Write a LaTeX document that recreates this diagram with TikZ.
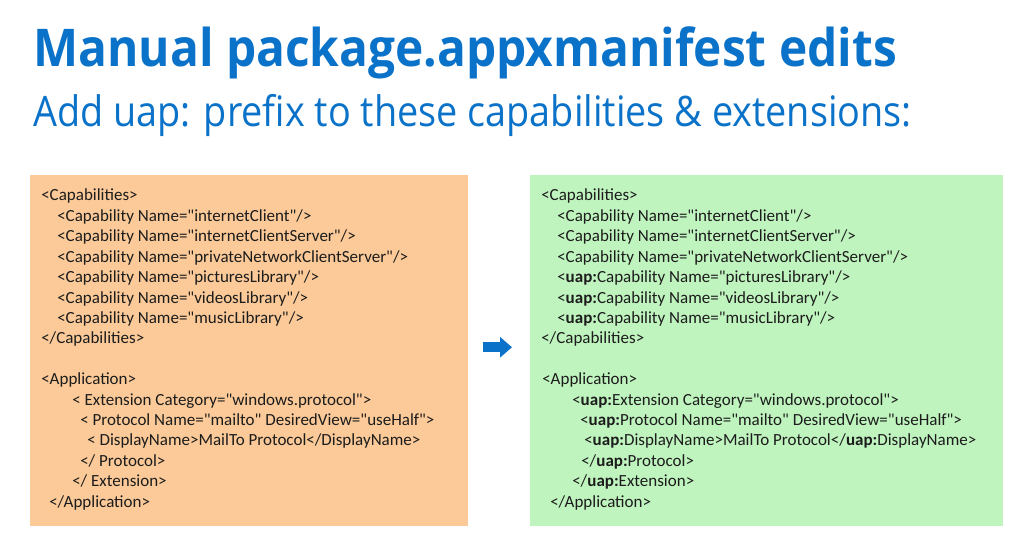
\documentclass[tikz,border=0pt]{standalone}
\usepackage{fontspec}
\setmainfont{Carlito}[Ligatures=TeXOff]
\newfontfamily\slidefont{Open Sans}
\usetikzlibrary{arrows.meta,calc}

\definecolor{slideblue}{HTML}{0A72C8}
\definecolor{peach}{HTML}{FBCA98}
\definecolor{mint}{HTML}{C0F4BF}
\definecolor{codegray}{HTML}{1C1C1C}

\tikzset{
  heading/.style={anchor=base west,inner sep=0pt,text=slideblue,font=\slidefont\bfseries\fontsize{39}{47}\selectfont},
  subheading/.style={anchor=base west,inner sep=0pt,text=slideblue,font=\slidefont\fontsize{31.5}{38}\selectfont},
  panel/.style={anchor=north west,inner sep=0pt,draw=none,minimum height=263.25pt},
  code/.style={anchor=base west,inner sep=0pt,text=codegray,font=\fontsize{12.75}{15.3}\selectfont},
  goarrow/.style={draw=slideblue,line width=7.5pt,line cap=butt,-{Triangle[length=9pt,width=15pt]}}
}
\newcommand{\uap}{\textbf{uap:}}

\begin{document}
\begin{tikzpicture}[line cap=round,line join=round,x=0.75pt,y=-0.75pt]
\useasboundingbox (0,0) rectangle (1024,552);

\node[heading] (title) at (33,67) {\scalebox{0.92}[1]{Manual package.appxmanifest edits}};
\node[subheading] (subtitle) at (33,127) {\scalebox{0.9}[1]{Add uap: prefix to these capabilities \& extensions:}};

\node[panel,fill=peach,minimum width=328.5pt] (oldbox) at (30,175) {};
\node[panel,fill=mint,minimum width=354.75pt] (newbox) at (530,175) {};

\draw[goarrow] ($(oldbox.east)+(14,-3.5)$) -- ($(newbox.west)+(-18,-3.5)$);

% old manifest
\node[code] (oldcap) at (41,201) {<Capabilities>};
\node[code] (oldcapa) at (57,221.4) {<Capability Name="internetClient"/>};
\node[code] (oldcapb) at (57,241.8) {<Capability Name="internetClientServer"/>};
\node[code] (oldcapc) at (57,262.2) {<Capability Name="privateNetworkClientServer"/>};
\node[code] (oldcapd) at (57,282.6) {<Capability Name="picturesLibrary"/>};
\node[code] (oldcape) at (57,303) {<Capability Name="videosLibrary"/>};
\node[code] (oldcapf) at (57,323.4) {<Capability Name="musicLibrary"/>};
\node[code] (oldcapend) at (41,343.8) {</Capabilities>};
\node[code] (oldapp) at (41,384.6) {<Application>};
\node[code] (oldext) at (72,405) {< Extension Category="windows.protocol">};
\node[code] (oldprot) at (80,425.4) {< Protocol Name="mailto" DesiredView="useHalf">};
\node[code] (olddisp) at (87,445.8) {< DisplayName>MailTo Protocol</DisplayName>};
\node[code] (oldprotend) at (80,466.2) {</ Protocol>};
\node[code] (oldextend) at (72,486.6) {</ Extension>};
\node[code] (oldappend) at (49,507) {</Application>};

% new manifest
\node[code] (newcap) at (541,201) {<Capabilities>};
\node[code] (newcapa) at (557,221.4) {<Capability Name="internetClient"/>};
\node[code] (newcapb) at (557,241.8) {<Capability Name="internetClientServer"/>};
\node[code] (newcapc) at (557,262.2) {<Capability Name="privateNetworkClientServer"/>};
\node[code] (newcapd) at (557,282.6) {<\uap Capability Name="picturesLibrary"/>};
\node[code] (newcape) at (557,303) {<\uap Capability Name="videosLibrary"/>};
\node[code] (newcapf) at (557,323.4) {<\uap Capability Name="musicLibrary"/>};
\node[code] (newcapend) at (541,343.8) {</Capabilities>};
\node[code] (newapp) at (542,384.6) {<Application>};
\node[code] (newext) at (572,405) {<\uap Extension Category="windows.protocol">};
\node[code] (newprot) at (580,425.4) {<\uap Protocol Name="mailto" DesiredView="useHalf">};
\node[code] (newdisp) at (584,445.8) {<\uap DisplayName>MailTo Protocol</\uap DisplayName>};
\node[code] (newprotend) at (581,466.2) {</\uap Protocol>};
\node[code] (newextend) at (572,486.6) {</\uap Extension>};
\node[code] (newappend) at (550,507) {</Application>};
\end{tikzpicture}
\end{document}
